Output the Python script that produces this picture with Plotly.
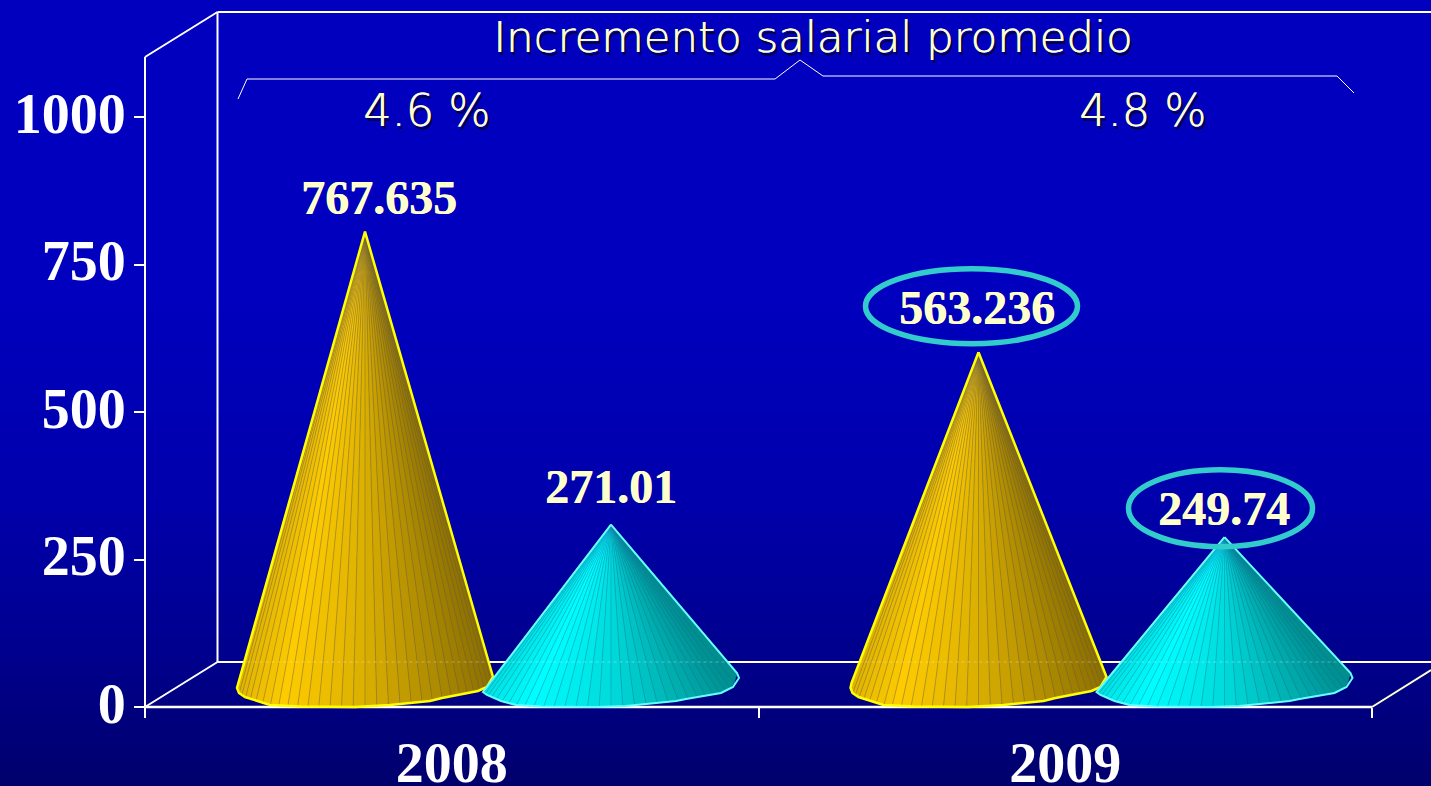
import numpy as np
import plotly.graph_objects as go

W, H = 1431, 786

# ---- data ----
YEARS = ["2008", "2009"]
GOLD_VALUES = [767.635, 563.236]
CYAN_VALUES = [271.01, 249.74]
GOLD_LABELS = ["767.635", "563.236"]
CYAN_LABELS = ["271.01", "249.74"]
Y_TICKS = [0, 250, 500, 750, 1000]
PCT_LABELS = ["4.6 %", "4.8 %"]
TITLE = "Incremento salarial promedio"

# ---- scales (pixels per data unit) ----
PX_X, PX_Y = 613.5, 0.59
X0, Y0 = 145.0, 707.0          # pixel of the axes origin
DX, DY = 72.5, 45.0            # 3-D depth of the frame
xr = [-(X0 / PX_X) - 0.5, (W - X0) / PX_X - 0.5]
yr = [(Y0 - H) / PX_Y, Y0 / PX_Y]
DEPTH_Y = (DY / 2) / PX_Y
DEPTH_X = (DX / 2) / PX_X
OFFSET = 123 / PX_X

fx = lambda px: px / W
fy = lambda py: 1 - py / H

# base outline of a cone: horizontal pixels from the centre, pixels above the floor
GOLD_DX = [-127, -128, -126, -120, -95, -65, -10, 25, 65, 77, 113, 122, 128]
GOLD_UP = [24, 19, 14, 10, 2, 0.5, 0, 2, 6, 9, 16, 20, 30]
CYAN_DX = [-128, -124, -110, -95, -70, -15, 15, 65, 75, 110, 122, 128, 126]
CYAN_UP = [15, 12, 6, 2, 0.5, 0, 1, 6, 8, 14, 20, 29, 34]

SHADE_U = [0.0, 0.18, 0.5, 1.0]
SHADE_V = [0.88, 1.0, 0.86, 0.55]


def mix(rgb, k):
    return "rgb(%d,%d,%d)" % tuple(int(c * k) for c in rgb)


def cone(fig, cx, value, rgb, edge, edge_w, spoke, dxs, ups):
    tip_x, tip_y = cx, value + DEPTH_Y
    n = 34
    us = (1 - np.cos(np.linspace(0, np.pi, n + 1))) / 2
    bx = -128 + 256 * us
    order = np.argsort(dxs)
    by = np.interp(bx, np.array(dxs)[order], np.array(ups)[order])
    xs = cx + bx / PX_X
    ys = by / PX_Y
    for i in range(n):
        col = mix(rgb, float(np.interp((us[i] + us[i + 1]) / 2, SHADE_U, SHADE_V)))
        fig.add_trace(go.Scatter(
            x=[tip_x, xs[i], xs[i + 1], tip_x], y=[tip_y, ys[i], ys[i + 1], tip_y],
            mode="lines", fill="toself", fillcolor=col,
            line=dict(color=col, width=0.6), hoverinfo="skip", showlegend=False))
    sx, sy = [], []
    for i in range(1, n):
        sx += [xs[i], tip_x, None]
        sy += [ys[i], tip_y, None]
    fig.add_trace(go.Scatter(x=sx, y=sy, mode="lines",
                             line=dict(color=spoke, width=0.7),
                             hoverinfo="skip", showlegend=False))
    ox = [tip_x] + list(cx + np.array(dxs) / PX_X) + [tip_x]
    oy = [tip_y] + list(np.array(ups) / PX_Y) + [tip_y]
    fig.add_trace(go.Scatter(x=ox, y=oy, mode="lines",
                             line=dict(color=edge, width=edge_w, shape="linear"),
                             hoverinfo="skip", showlegend=False))


fig = go.Figure()
shapes = []

# background gradient
GRAD_Y = [0, 300, 500, 660, 786]
GRAD_B = [190, 190, 172, 140, 108]
step = 4
for top in range(0, H, step):
    b = int(np.interp(top + step / 2, GRAD_Y, GRAD_B))
    shapes.append(dict(type="rect", xref="paper", yref="paper", layer="below",
                       x0=0, x1=1, y0=fy(top + step), y1=fy(top),
                       fillcolor="rgb(0,0,%d)" % b, line=dict(width=0)))


def seg(x0, y0, x1, y1, w=2, color="white", layer="below"):
    shapes.append(dict(type="line", xref="paper", yref="paper", layer=layer,
                       x0=fx(x0), y0=fy(y0), x1=fx(x1), y1=fy(y1),
                       line=dict(color=color, width=w)))


# 3-D frame
frame_top = Y0 - 1101.7 * PX_Y
seg(X0, Y0, X0, frame_top)
seg(X0, frame_top, X0 + DX, frame_top - DY)
seg(X0 + DX, frame_top - DY, X0 + DX, Y0 - DY)
seg(X0 + DX, frame_top - DY, W, frame_top - DY)
seg(X0, Y0, X0 + DX, Y0 - DY)
seg(X0 + DX, Y0 - DY, W, Y0 - DY)
seg(X0, Y0, 1372, Y0, w=2.5)
seg(1372, Y0, 1431, 670, color="#FFFFD0")

# brace
BRACE_PX = [(238, 99), (247, 79), (775, 79), (800, 60), (823, 76), (1337, 76), (1354, 93)]
for a, b in zip(BRACE_PX[:-1], BRACE_PX[1:]):
    seg(a[0], a[1], b[0], b[1], w=1, layer="above")

# cones
for i, yr_name in enumerate(YEARS):
    c = i + DEPTH_X
    cone(fig, c - OFFSET, GOLD_VALUES[i], (255, 204, 0), "#FFFF00", 2.5, "rgba(110,100,70,0.6)", GOLD_DX, GOLD_UP)
    cone(fig, c + OFFSET, CYAN_VALUES[i], (0, 255, 255), "#66FFFF", 2, "rgba(20,120,170,0.5)", CYAN_DX, CYAN_UP)

# faint floor line showing through the cones
fig.add_trace(go.Scatter(x=[-0.5 + DX / PX_X, xr[1]], y=[DY / PX_Y, DY / PX_Y], mode="lines",
                         line=dict(color="rgba(255,255,255,0.3)", width=1, dash="dot"),
                         hoverinfo="skip", showlegend=False))

annotations = []


def txt(x, y, s, size, family, color="#FFFFCC", xref="x", yref="y", weight="normal", shadow="none"):
    annotations.append(dict(x=x, y=y, xref=xref, yref=yref, text=s, showarrow=False,
                            xanchor="center", yanchor="middle",
                            font=dict(size=size, family=family, color=color, weight=weight, shadow=shadow)))


SERIF = "Liberation Serif"
SANS = "DejaVu Sans"
SHADOW = "0.7px 0 0 #FFFFCC, 2.5px 2.5px 0 #000040"
BOLD_SHADOW = "0.5px 0 0 #FFFFCC"
# label offsets from the cone tip, in pixels
GOLD_SHIFT = [(14, 34), (-2, 45)]
CYAN_SHIFT = [(0, 38), (-1, 29)]
for i in range(2):
    c = i + DEPTH_X
    gx, gy = GOLD_SHIFT[i]
    cx, cy = CYAN_SHIFT[i]
    txt(c - OFFSET + gx / PX_X, GOLD_VALUES[i] + DEPTH_Y + gy / PX_Y, GOLD_LABELS[i], 48, SERIF, weight="bold", shadow=BOLD_SHADOW)
    txt(c + OFFSET + cx / PX_X, CYAN_VALUES[i] + DEPTH_Y + cy / PX_Y, CYAN_LABELS[i], 48, SERIF, weight="bold", shadow=BOLD_SHADOW)

# highlighted labels: ellipses around the 2009 values
for i, (cxo, cyo, rx, ry) in enumerate([(-130, 46, 106, 37.5), (119, 29, 92, 38.5)]):
    c = 1 + DEPTH_X
    v = GOLD_VALUES[1] if i == 0 else CYAN_VALUES[1]
    xc = c + cxo / PX_X
    yc = v + DEPTH_Y + cyo / PX_Y
    shapes.append(dict(type="circle", xref="x", yref="y", layer="above",
                       x0=xc - rx / PX_X, x1=xc + rx / PX_X,
                       y0=yc - ry / PX_Y, y1=yc + ry / PX_Y,
                       line=dict(color="#33CCCC", width=5.5), fillcolor="rgba(0,0,0,0)"))

txt(812.5 / W, fy(37), TITLE, 43.5, SANS, xref="paper", yref="paper", weight=200, shadow=SHADOW)
txt(426 / W, fy(111), PCT_LABELS[0], 44.5, SANS, xref="paper", yref="paper", weight=200, shadow=SHADOW)
txt(1142 / W, fy(111), PCT_LABELS[1], 44.5, SANS, xref="paper", yref="paper", weight=200, shadow=SHADOW)

fig.update_layout(
    width=W, height=H, autosize=False,
    margin=dict(l=0, r=0, t=0, b=0, pad=0, autoexpand=False),
    paper_bgcolor="#0000BE", plot_bgcolor="rgba(0,0,0,0)",
    showlegend=False, shapes=shapes, annotations=annotations,
    hovermode=False,
    xaxis=dict(range=xr, domain=[0, 1], anchor="free", position=(H - Y0) / H,
               automargin=False,
               tickmode="array", tickvals=list(range(len(YEARS))), ticktext=YEARS,
               ticks="", showgrid=False, zeroline=False, showline=False,
               tickfont=dict(family=SERIF, size=56, color="white", weight="bold"),
               ticklabelstandoff=18, fixedrange=True,
               minor=dict(tickmode="array", tickvals=[-0.5, 0.5, 1.5], ticks="outside",
                          ticklen=10, tickwidth=2, tickcolor="white", showgrid=False)),
    yaxis=dict(range=yr, domain=[0, 1], anchor="free", position=X0 / W,
               automargin=False,
               tickmode="array", tickvals=Y_TICKS, ticktext=[str(t) for t in Y_TICKS],
               ticks="outside", ticklen=11, tickwidth=2, tickcolor="white",
               showgrid=False, zeroline=False, showline=False,
               tickfont=dict(family=SERIF, size=56, color="white", weight="bold"),
               ticklabelstandoff=-3, ticklabelshift=-4, fixedrange=True),
)

fig.write_html("out.html", config={"displayModeBar": False},
               post_script="document.body.style.margin='0';document.documentElement.style.overflow='hidden';")
